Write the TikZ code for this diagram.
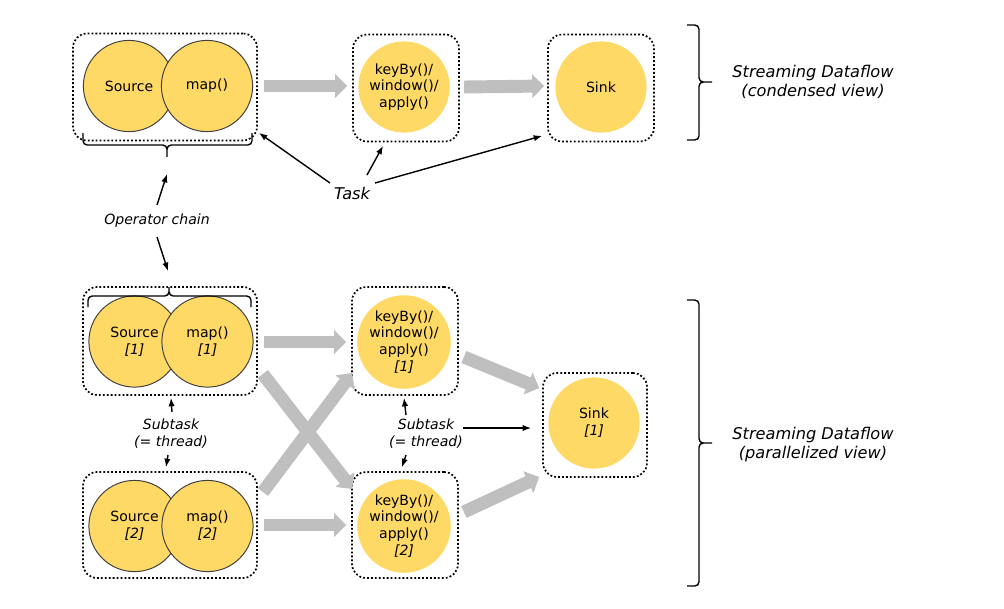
\documentclass[tikz,border=0pt]{standalone}
\usepackage{fontspec}
\setmainfont{DejaVu Sans}
\usetikzlibrary{arrows.meta,positioning,calc}
\definecolor{opyellow}{HTML}{FFD966}
\definecolor{flowgray}{HTML}{BFBFBF}
\newcommand{\optext}{\fontsize{10}{12}\selectfont}
\newcommand{\notetext}{\fontsize{10}{12}\selectfont\itshape}
\newcommand{\viewtext}{\fontsize{11.5}{13.5}\selectfont\itshape}
\tikzset{
  taskbox/.style={draw,rectangle,rounded corners=10pt,line width=1.2pt,dash pattern=on 1.3pt off 1.5pt},
  opcirc/.style={circle,fill=opyellow,minimum size=2.28cm,inner sep=0pt,align=center,font=\optext},
  chaincirc/.style={opcirc,draw=black!75,line width=0.7pt},
  flowarr/.style={draw=flowgray,line width=9.2pt,-{Triangle[length=8.5pt,width=16.5pt]}},
  lblarr/.style={-{Latex[length=6pt,width=4.5pt]},line width=1pt},
  lbl/.style={font=\notetext,align=center},
  bracket/.style={line width=1pt,rounded corners=3pt}
}
\begin{document}
\begin{tikzpicture}[x=0.025cm,y=-0.025cm]
  \useasboundingbox (0,0) rectangle (1004,608);
  % Condensed view: tasks
  \node[taskbox, minimum width=4.6cm, minimum height=2.675cm] (t1) at (165,87) {};
  \node[chaincirc] (tsrc) at (129,86) {Source};
  \node[chaincirc] (tmap) at (207,86) {map()};
  \node[taskbox, minimum width=2.65cm, minimum height=2.675cm] (t2) at (406,88) {};
  \node[opcirc] (tkey) at (404,87) {keyBy()/\\window()/\\apply()};
  \node[taskbox, minimum width=2.65cm, minimum height=2.675cm] (t3) at (601,88) {};
  \node[opcirc] (tsink) at (601,87) {Sink};

  % Data flow (condensed)
  \draw[flowarr] ($(t1.east)+(6,-1)$) -- ($(t2.west)+(-5,-2)$);
  \draw[flowarr] ($(t2.east)+(4,-1)$) -- ($(t3.west)+(-3,-2)$);

  % Parallelized view: subtasks
  \node[taskbox, minimum width=4.35cm, minimum height=2.7cm] (b1) at (170,341) {};
  \node[chaincirc] (bsrc1) at (134.5,341.5) {Source\\\textit{[1]}};
  \node[chaincirc] (bmap1) at (207.5,341.5) {map()\\\textit{[1]}};
  \node[taskbox, minimum width=4.35cm, minimum height=2.65cm] (b2) at (170,525) {};
  \node[chaincirc] (bsrc2) at (134.5,526) {Source\\\textit{[2]}};
  \node[chaincirc] (bmap2) at (207.5,526) {map()\\\textit{[2]}};
  \node[taskbox, minimum width=2.65cm, minimum height=2.7cm] (k1) at (405,341) {};
  \node[opcirc] (pkey1) at (404,342) {keyBy()/\\window()/\\apply()\\\textit{[1]}};
  \node[taskbox, minimum width=2.65cm, minimum height=2.65cm] (k2) at (405,525) {};
  \node[opcirc] (pkey2) at (404,526) {keyBy()/\\window()/\\apply()\\\textit{[2]}};
  \node[taskbox, minimum size=2.6cm] (s1) at (595,425) {};
  \node[opcirc] (psink) at (594,423) {Sink\\\textit{[1]}};

  % Data flow (parallelized)
  \draw[flowarr] ($(b1.east)+(6,1)$) -- ($(k1.west)+(-5,1)$);
  \draw[flowarr] ($(b2.east)+(6,0)$) -- ($(k2.west)+(-5,0)$);
  \draw[flowarr] ($(b1.east)+(5,33)$) -- ($(k2.west)+(1,-36)$);
  \draw[flowarr] ($(b2.east)+(5,-33)$) -- ($(k1.west)+(1,32)$);
  \draw[flowarr] ($(k1.east)+(5,16)$) -- ($(s1.west)+(-3,-37)$);
  \draw[flowarr] ($(k2.east)+(5,-13)$) -- ($(s1.west)+(-3,52)$);

  % Braces
  \draw[bracket] (83,133) -- (83,145) -- (167,145) -- (167,157) (167,157) -- (167,145) -- (252,145) -- (252,133);
  \draw[bracket] (88,307) -- (88,296) -- (169,296) -- (169,287) (169,287) -- (169,296) -- (251,296) -- (251,307);
  \draw[bracket] (687,25) -- (699,25) -- (699,82) -- (712,82) (712,82) -- (699,82) -- (699,140) -- (687,140);
  \draw[bracket] (687,300) -- (699,300) -- (699,443) -- (712,443) (712,443) -- (699,443) -- (699,586) -- (687,586);

  % Labels
  \node[lbl, font=\viewtext] (task) at (352,193) {Task};
  \node[lbl] (opchain) at (157,221) {Operator chain};
  \node[lbl] (sub1) at (171,434) {Subtask\\(= thread)};
  \node[lbl] (sub2) at (426,434) {Subtask\\(= thread)};
  \node[lbl, font=\viewtext] (condensed) at (813,82) {Streaming Dataflow\\(condensed view)};
  \node[lbl, font=\viewtext] (parallel) at (813,445) {Streaming Dataflow\\(parallelized view)};

  % Label arrows
  \draw[lblarr] ($(task)+(-22,-10)$) -- ($(t1.south east)+(1,-8.5)$);
  \draw[lblarr] ($(task)+(15,-18)$) -- ($(t2.south)+(-23,3.5)$);
  \draw[lblarr] ($(task)+(23,-10)$) -- ($(t3.south west)+(-5,-6.5)$);
  \coordinate (chaintop) at (167,174);
  \coordinate (chainbot) at (168,271);
  \draw[lblarr] ($(opchain)+(0,-16)$) -- (chaintop);
  \draw[lblarr] ($(opchain)+(0,16)$) -- (chainbot);
  \draw[lblarr] ($(sub1)+(1,-22)$) -- ($(b1.south)+(1,2)$);
  \draw[lblarr] ($(sub1)+(-3,21)$) -- ($(b2.north)+(-4,-4)$);
  \draw[lblarr] ($(sub2)+(-20,-19)$) -- ($(k1.south)+(-1,2)$);
  \draw[lblarr] ($(sub2)+(-20,21)$) -- ($(k2.north)+(-3,-4)$);
  \draw[lblarr] ($(sub2)+(37,-6)$) -- ($(s1.west)+(-11,3)$);
\end{tikzpicture}
\end{document}
